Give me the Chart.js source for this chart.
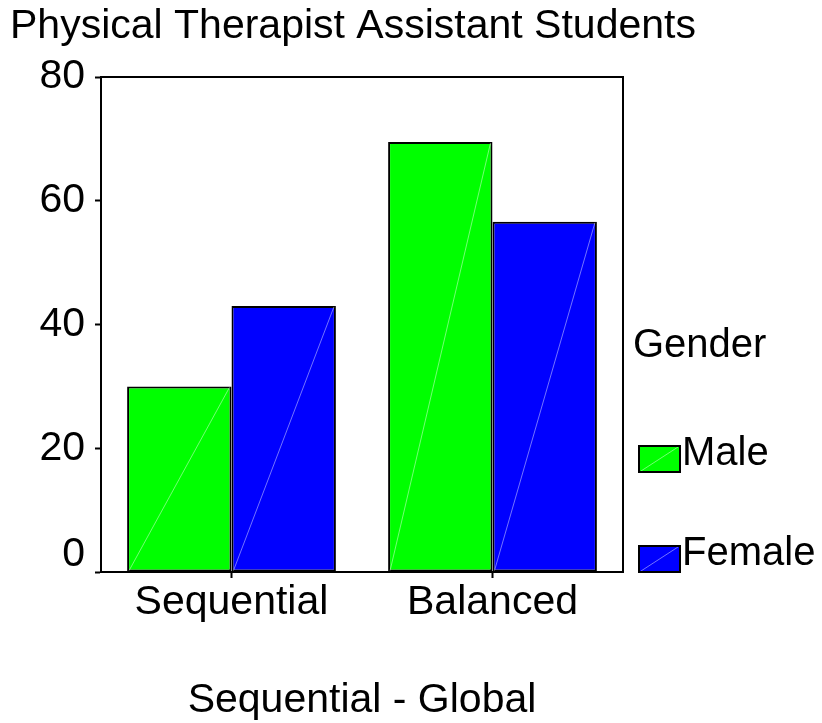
<!DOCTYPE html>
<html lang="en">
<head>
  <meta charset="UTF-8" />
  <title>Physical Therapist Assistant Students</title>
  <script src="https://cdn.jsdelivr.net/npm/chart.js"></script>
  <style>
    html, body { margin: 0; padding: 0; background: #fff; }
    #wrap { width: 822px; height: 723px; }
  </style>
</head>
<body>
  <div id="wrap"><canvas id="barChart" width="822" height="723"></canvas></div>

  <script>
    const categories = ['Sequential', 'Balanced'];
    const maleValues = [30, 69.5];
    const femaleValues = [43, 56.6];
    const seriesNames = ['Male', 'Female'];
    const yTicks = [0, 20, 40, 60, 80];

    const FONT = 'Arial, "Liberation Sans", sans-serif';

    // frame + faint diagonal in each bar + SPSS-style legend on the right
    const extras = {
      id: 'extras',
      beforeDraw(chart) {
        // the "0" label sits a bit above its tick in the original
        const items = chart.scales.y.getLabelItems();
        items.forEach(it => {
          if (it.label === '0') it.options.translation[1] -= 17;
        });
      },
      afterDatasetsDraw(chart) {
        const ctx = chart.ctx;
        ctx.save();
        ctx.strokeStyle = 'rgba(255,255,255,0.45)';
        ctx.lineWidth = 1;
        chart.data.datasets.forEach((ds, i) => {
          chart.getDatasetMeta(i).data.forEach(bar => {
            const l = bar.x - bar.width / 2, r = bar.x + bar.width / 2;
            ctx.beginPath();
            ctx.moveTo(l + 2, bar.base - 1);
            ctx.lineTo(r - 2, bar.y + 1);
            ctx.stroke();
          });
        });
        ctx.restore();
      },
      afterDraw(chart) {
        const ctx = chart.ctx;
        const a = chart.chartArea;
        ctx.save();
        ctx.strokeStyle = '#000';
        ctx.lineWidth = 2;
        ctx.beginPath();
        ctx.moveTo(a.left, a.top);
        ctx.lineTo(a.right, a.top);
        ctx.lineTo(a.right, a.bottom);
        ctx.stroke();

        // legend
        const lx = a.right + 16;
        ctx.font = '40px ' + FONT;
        ctx.fillStyle = '#000';
        ctx.textBaseline = 'middle';
        ctx.textAlign = 'left';
        ctx.fillText('Gender', a.right + 10, 346);
        const rows = [459, 559];
        chart.data.datasets.forEach((ds, i) => {
          const cy = rows[i];
          ctx.fillStyle = ds.backgroundColor;
          ctx.fillRect(lx, cy - 13, 41, 26);
          ctx.strokeStyle = 'rgba(255,255,255,0.45)';
          ctx.lineWidth = 1;
          ctx.beginPath();
          ctx.moveTo(lx + 2, cy + 12);
          ctx.lineTo(lx + 39, cy - 12);
          ctx.stroke();
          ctx.strokeStyle = '#000';
          ctx.lineWidth = 2;
          ctx.strokeRect(lx, cy - 13, 41, 26);
          ctx.fillStyle = '#000';
          ctx.fillText(ds.label, lx + 43, cy - 5);
        });
        ctx.restore();
      }
    };

    const ctx = document.getElementById('barChart').getContext('2d');
    new Chart(ctx, {
      type: 'bar',
      data: {
        labels: categories,
        datasets: [
          {
            label: seriesNames[0],
            data: maleValues,
            backgroundColor: '#00ff00',
            borderColor: '#000',
            borderWidth: 2,
            borderSkipped: false
          },
          {
            label: seriesNames[1],
            data: femaleValues,
            backgroundColor: '#0000ff',
            borderColor: '#000',
            borderWidth: 2,
            borderSkipped: false
          }
        ]
      },
      options: {
        responsive: false,
        animation: false,
        categoryPercentage: 0.8,
        barPercentage: 1.0,
        layout: { padding: { left: 10, right: 0, top: 0, bottom: 0 } },
        plugins: {
          legend: { display: false },
          tooltip: { enabled: false },
          title: {
            display: true,
            text: 'Physical Therapist Assistant Students',
            align: 'start',
            color: '#000',
            font: { family: FONT, size: 41, weight: 'normal', lineHeight: 1 },
            padding: { top: 6, bottom: 30 }
          }
        },
        scales: {
          x: {
            afterFit: scale => { scale.height = 151; },
            grid: {
              offset: false,
              drawOnChartArea: false,
              tickLength: 6,
              tickWidth: 2,
              tickColor: '#000'
            },
            border: { display: true, color: '#000', width: 2 },
            ticks: {
              color: '#000',
              padding: 4,
              maxRotation: 0,
              font: { family: FONT, size: 41, lineHeight: 1 }
            },
            title: {
              display: true,
              text: 'Sequential - Global',
              color: '#000',
              font: { family: FONT, size: 41, lineHeight: 1 },
              padding: { top: 0, bottom: 2 }
            }
          },
          y: {
            min: 0,
            max: 80,
            afterFit: scale => { scale.width = 91; },
            afterBuildTicks: scale => { scale.ticks = yTicks.map(v => ({ value: v })); },
            grid: {
              drawOnChartArea: false,
              tickLength: 6,
              tickWidth: 2,
              tickColor: '#000'
            },
            border: { display: true, color: '#000', width: 2 },
            ticks: {
              color: '#000',
              padding: 10,
              font: { family: FONT, size: 41, lineHeight: 1 }
            }
          },
          // empty right-hand band that leaves room for the legend
          legendSpace: {
            position: 'right',
            min: 0,
            max: 80,
            afterFit: scale => { scale.width = 199; },
            grid: { display: false },
            border: { display: false },
            ticks: { display: false }
          }
        }
      },
      plugins: [extras]
    });
  </script>
</body>
</html>
